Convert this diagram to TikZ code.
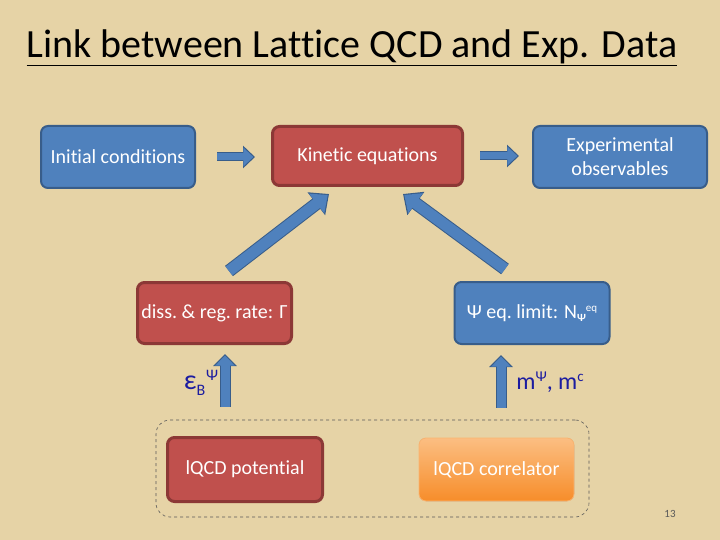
\documentclass[tikz,border=0pt]{standalone}
\usepackage{fontspec}
\setmainfont{Carlito}[Ligatures=NoCommon]
\usepackage{tikz}
\usetikzlibrary{arrows.meta, positioning, calc}
\definecolor{parch}{HTML}{E6D3A6}
\definecolor{boxblue}{HTML}{4F81BD}
\definecolor{edgeblue}{HTML}{385D8A}
\definecolor{boxred}{HTML}{C0504D}
\definecolor{edgered}{HTML}{8C3836}
\definecolor{orangetop}{HTML}{FBBE82}
\definecolor{orangebot}{HTML}{F78D2A}
\definecolor{labblue}{HTML}{1C1CA0}

\begin{document}
\begin{tikzpicture}[
    x=1pt, y=-1pt,
    card/.style={draw=edge#1, fill=box#1, rounded corners=7pt, line width=2pt,
                 text=white, font=\fontsize{20}{24}\selectfont, align=center,
                 inner sep=0pt},
    hblk/.style={boxblue, line width=7pt, -{Triangle[length=10pt,width=18pt]},
                 shorten >=1.6pt,
                 preaction={draw=edgeblue, line width=9pt, shorten >=0pt,
                            -{Triangle[length=12pt,width=22pt]}}},
    vblk/.style={boxblue, line width=9pt, -{Triangle[length=10pt,width=19pt]},
                 shorten >=1.6pt,
                 preaction={draw=edgeblue, line width=11pt, shorten >=0pt,
                            -{Triangle[length=12pt,width=23pt]}}},
    dblk/.style={boxblue, line width=11pt, -{Triangle[length=14pt,width=24pt]},
                 shorten >=1.6pt,
                 preaction={draw=edgeblue, line width=13pt, shorten >=0pt,
                            -{Triangle[length=16pt,width=28pt]}}},
    lab/.style={text=labblue, font=\fontsize{24}{28}\selectfont},
]
    % background
    \fill[parch] (0,0) rectangle (720,540);
    \useasboundingbox (0,0) rectangle (720,540);

    % Title
    \node[font=\fontsize{40}{46}\selectfont] (title) at (352,48)
        {\underline{Link between Lattice QCD and Exp. Data}};

    % Top row
    \node[card=blue, minimum width=154pt, minimum height=62pt] (init) at (118,157) {Initial conditions};
    \node[card=red, line width=3pt, minimum width=190pt, minimum height=59pt] (kin) at (367.5,156) {Kinetic equations};
    \node[card=blue, minimum width=174pt, minimum height=62pt] (exp) at (620,157) {Experimental\\observables};

    % Middle row
    \node[card=red, line width=3pt, minimum width=154pt, minimum height=61pt] (diss) at (214.5,313) {diss.\ \&\ reg.\ rate: Γ};
    \node[card=blue, minimum width=155pt, minimum height=62pt] (psieq) at (532,313)
        {Ψ eq.\ limit: N\raisebox{-3pt}{\fontsize{11}{11}\selectfont\bfseries Ψ}\raisebox{7pt}{\fontsize{11}{11}\selectfont eq}};

    % lQCD inputs
    \node[draw=gray!70!black, dashed, rounded corners=14pt, line width=0.6pt,
          minimum width=433pt, minimum height=97pt] (lqcd) at (372.5,468.5) {};
    \node[card=red, line width=3pt, minimum width=155pt, minimum height=64pt] (pot) at (245,469.5) {lQCD potential};
    \node[card=blue, draw=orangetop!80!orangebot, line width=0.8pt, top color=orangetop, bottom color=orangebot,
          minimum width=155pt, minimum height=63pt] (corr) at (496.5,469.5) {lQCD correlator};

    % Labels
    \node[lab] (eps) at (201,383)
        {{\fontsize{28}{30}\selectfont ε}\raisebox{-6pt}{\fontsize{16}{16}\selectfont B}\hspace{1pt}\raisebox{9pt}{\fontsize{16}{16}\selectfont Ψ}};
    \node[lab] (mpsi) at (550,382)
        {m\raisebox{8pt}{\fontsize{15}{15}\selectfont Ψ}, m\raisebox{8pt}{\fontsize{15}{15}\selectfont c}};
    \node[text=gray!70!black, font=\fontsize{11}{12}\selectfont] (page) at (670,514) {13};

    % Arrows
    \draw[hblk] ([xshift=21pt]init.east) -- ([xshift=-16pt]init.east -| kin.west);
    \draw[hblk] ([xshift=16pt]kin.east) -- ([xshift=-13pt]kin.east -| exp.west);
    \draw[dblk] ([shift={(14.5,-10)}]diss.north) -- ([shift={(-38.5,7)}]kin.south);
    \draw[dblk] ([shift={(-27,-12)}]psieq.north) -- ([shift={(35.5,7)}]kin.south);
    \draw[vblk] ([shift={(-20,-29)}]pot.north) -- ([shift={(10.5,9)}]diss.south);
    \draw[vblk] ([shift={(4.5,-30)}]corr.north) -- ([shift={(-31,10)}]psieq.south);
\end{tikzpicture}
\end{document}
